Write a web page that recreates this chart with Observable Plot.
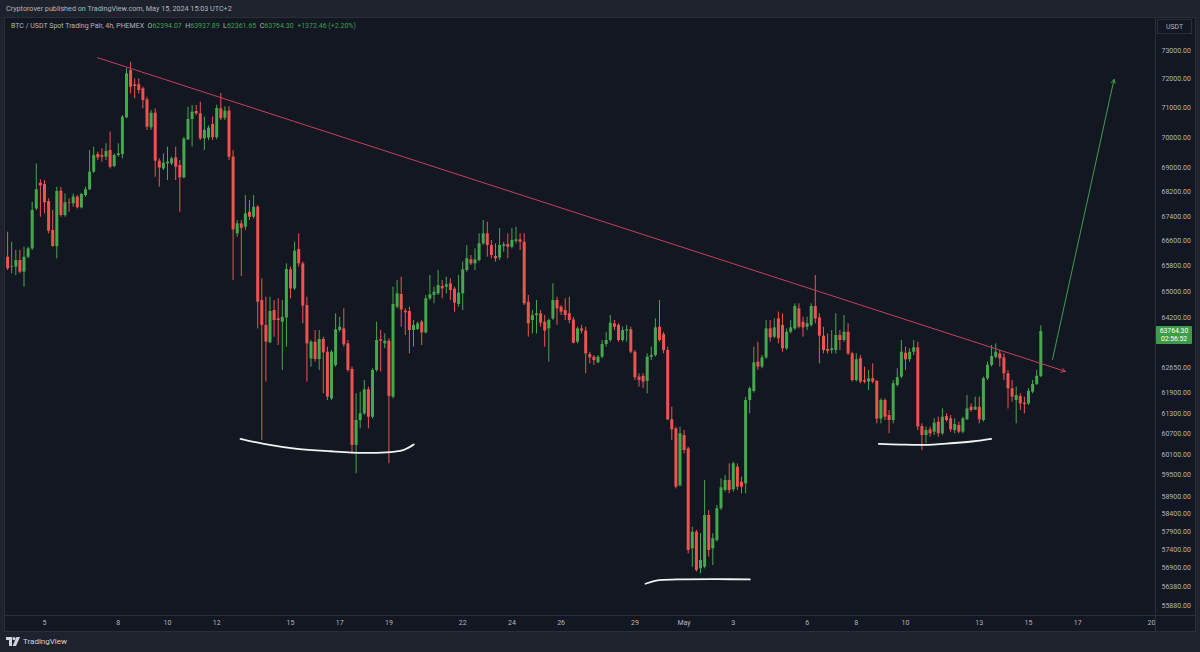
<!DOCTYPE html>
<html>
<head>
<meta charset="utf-8">
<script src="https://cdn.jsdelivr.net/npm/d3@7"></script>
<script src="https://cdn.jsdelivr.net/npm/@observablehq/plot@0.6"></script>
<style>
  html, body { margin:0; padding:0; }
  body { width:1200px; height:652px; overflow:hidden; position:relative; background:#1e222d; font-family:Roboto, "Noto Sans", sans-serif; }
  #hdr { position:absolute; left:6px; top:4px; font-size:7.2px; color:#b2b5be; white-space:nowrap; }
  #panel { position:absolute; left:5px; top:18px; width:1190px; height:613px; background:#131722; box-shadow:0 0 0 1px #2a2e39; }
  #legend { position:absolute; left:6px; top:4px; font-size:7px; color:#b2b5be; white-space:nowrap; }
  #legend .v { color:#3f9f4f; }
  .hline { position:absolute; left:0; width:1190px; height:1px; background:#2a2e39; }
  .vline { position:absolute; top:0; width:1px; height:613px; background:#2a2e39; }
  #usdt { position:absolute; left:1152px; top:1px; width:35px; height:15px; border:1px solid #2a2e39; box-sizing:border-box; font-size:6.8px; color:#b2b5be; display:flex; align-items:center; justify-content:center; }
  #last { position:absolute; left:1151px; width:36px; height:18px; background:#3d9c48; color:#fff; font-size:6.8px; line-height:8px; text-align:center; padding-top:1px; box-sizing:border-box; border-radius:1px; }
  #foot { position:absolute; left:6px; top:637px; font-size:8px; color:#d1d4dc; display:flex; align-items:center; gap:3px; }
</style>
</head>
<body>
<div id="hdr">Cryptorover published on TradingView.com, May 15, 2024 15:03 UTC+2</div>
<div id="panel">
  <div id="chart"></div>
  <div class="hline" style="top:597px"></div>
  <div class="vline" style="left:1150px"></div>
  <div id="legend">BTC / USDT Spot Trading Pair, 4h, PHEMEX&nbsp;&nbsp;O<span class="v">62394.07</span>&nbsp;&nbsp;H<span class="v">63937.89</span>&nbsp;&nbsp;L<span class="v">62361.65</span>&nbsp;&nbsp;C<span class="v">63764.30</span>&nbsp;&nbsp;<span class="v">+1372.46 (+2.20%)</span></div>
  <div id="usdt">USDT</div>
  <div id="last">63764.30<br>02:56:52</div>
</div>
<div id="foot"><svg width="14" height="9" viewBox="0 0 14 9"><path d="M0 0h6v9H3V3H0z" fill="#d1d4dc"/><circle cx="8" cy="1.6" r="1.6" fill="#d1d4dc"/><path d="M10.5 0H14l-4 9H6.6z" fill="#d1d4dc"/></svg><span>TradingView</span></div>
<script>
// ---- BTC/USDT 4h candles (PHEMEX), first candle 2024-04-03 12:00, step 4h ----
const firstCandle = "2024-04-03T12:00:00Z";
const open = [66085,65760,65770,65981,65610,66085,66352,67640,68482,68440,67880,66941,66425,68220,67425,67840,67805,68025,67675,68075,68264,68845,69435,69400,69345,69569,69035,69400,69435,70673,72300,71805,71805,71665,71287,70333,70830,69212,68957,69124,69124,69325,69068,68660,69925,70615,70888,70808,69960,69985,70446,70000,70980,70660,70900,69345,66833,67155,67048,67530,67370,67695,64722,63950,63420,64411,64150,64050,64180,65685,65085,66330,65875,64565,62930,63437,62910,63520,63130,61730,62730,63794,63845,63385,62610,60360,61089,61286,62000,61187,62578,63510,63385,63466,61780,64515,64910,64390,64380,63794,63825,64050,63720,64775,64880,64930,65160,65140,65245,65075,64600,64930,65664,66000,65875,65981,66512,66833,66460,66108,66060,66425,66490,66405,66590,66640,66565,64670,64102,64255,64310,64050,63845,64150,64722,64515,64411,64310,64120,63437,63845,63775,63060,62980,62810,62980,63365,63488,64000,63950,63488,63775,63815,63130,62380,62400,62250,62980,63030,63896,63670,63183,61110,60845,59200,60650,60260,57430,57890,56880,56925,58360,57430,57661,58547,59065,59350,59085,59732,59300,59255,61680,61950,62830,62680,62960,63845,63590,64150,63950,63235,63740,63845,64463,64050,63896,63950,64535,64180,63620,63215,63183,63183,63640,63488,63740,63080,62277,62930,62277,62230,62330,62250,61130,61680,61236,61089,62130,62380,63100,62900,63130,63265,60910,60650,60815,60745,61040,60700,61206,61140,60796,60945,60745,61110,61480,61400,61480,61089,62330,62730,62980,63080,62960,62480,62030,61680,61800,61600,61580,61930,62160,62394.07];
const high = [66886,66565,66299,66299,66405,66405,67858,69124,68594,68571,67970,67588,68350,68350,68130,67970,68130,68075,68150,68350,69569,69680,69513,69625,69795,70185,69457,69795,70751,72360,72590,72010,72010,71722,71378,70922,70980,69290,69457,69680,69345,69680,69235,70015,71035,71092,71092,71206,70693,70400,70700,71100,71500,71050,71050,69569,67264,67264,68075,67914,68075,67750,65400,64825,64825,64722,64775,64722,65875,65770,66565,66833,65930,64825,63488,63794,63794,63590,63285,63183,64310,64200,64463,63488,62680,61880,61930,62277,62080,62630,64050,63794,63690,63540,65140,65348,65450,64463,64515,64102,64050,64102,64880,65505,65140,65664,65348,65450,65400,65140,65505,65930,66460,66140,66352,66833,67264,67210,66619,66512,67000,66565,66833,67000,67048,66833,66833,64880,64411,64722,64411,64255,64150,65245,64825,64565,64775,64825,64200,63896,63950,63896,63130,63030,63030,63488,63740,64255,64102,64000,63896,63950,63896,63183,62480,62480,63080,63285,64150,64722,63740,63285,61480,60895,60895,60796,60310,58030,57939,57850,59350,58500,57850,58640,59397,59493,59827,59876,59827,59445,61778,62080,63285,63437,63030,64102,64102,64150,64360,64310,63845,64102,64620,64620,64200,64200,64620,65505,64310,63896,63690,63794,64310,63794,64255,64000,63130,63080,63030,62680,62578,62780,62277,61730,61730,61384,62277,62630,63488,63285,63235,63488,63437,60990,60895,60895,61140,61187,61430,61286,61236,61140,61040,61187,61830,61580,61780,61780,62380,62830,63335,63385,63183,63080,62578,62277,62080,61880,61780,62030,62277,62578,63937.89];
const low = [65664,65560,65505,65560,65140,66035,66299,67588,67370,67480,66830,66405,66035,67370,67370,67530,67695,67640,67640,68025,68242,68810,69235,69180,69235,68957,68990,69345,69290,70640,71493,71320,71493,70980,70242,70242,68680,68350,68902,68571,69068,68571,67530,68625,69905,69680,70751,69905,69569,69900,69900,69930,70580,70580,69235,65348,66725,65470,66941,67264,67318,63845,60504,62230,63390,63590,63335,62578,63285,64775,65035,65770,64000,62230,62680,62830,62578,61880,61680,61680,62680,63740,63285,62530,60115,59540,60845,61236,60845,61140,62530,62530,63235,59830,61730,64463,63896,63640,63080,63285,63794,63335,63690,64722,64620,64880,64775,64930,64722,64360,64515,64411,65610,65822,65664,65930,66460,66085,66035,65930,65981,66245,66035,66352,66512,66299,64565,63590,63690,63690,63896,63285,62830,64102,63950,64255,64102,64000,63385,63385,63690,62480,62780,62730,62780,62930,63285,63437,63794,63437,63437,63437,63080,62277,62080,62030,61880,62880,62980,63437,63080,61089,60504,59110,59160,60115,57290,56925,56790,56740,56880,57200,56970,57615,58500,59017,58970,59017,59065,58970,58970,61286,61900,62578,62630,62910,63437,63540,63385,63130,63183,63690,63794,63845,63590,63794,63896,64000,62780,63080,63080,63080,63080,63183,63437,63030,62230,62230,62180,62180,61978,62180,60990,60990,61089,60700,60990,62080,62330,62578,62830,63030,60796,60213,60410,60600,60650,60600,60650,61040,60745,60700,60700,60700,61089,61335,61384,60990,61040,62277,62680,62930,62680,62277,61430,61630,60990,61384,61286,61530,61880,62130,62361.65];
const close = [65718,65780,65981,65610,66085,66352,67588,68264,68395,67840,66918,66425,68210,67425,67840,67820,68025,67675,68110,68264,68845,69400,69325,69345,69535,69012,69400,69457,70693,72185,71722,71745,71608,71264,70355,70830,69212,68980,69145,69180,69290,69012,68660,69950,70615,70865,70808,69960,70250,70320,70000,70990,70640,70900,69345,66963,67155,67010,67480,67370,67695,64670,63950,63437,64380,64102,64102,64200,65695,65085,66277,65875,64545,63385,63437,62910,63520,63110,61780,63130,63815,63896,63355,62578,60360,61089,61286,62000,61187,62578,63488,63466,63466,61800,64600,64930,64430,64340,63794,63950,64000,63720,64775,64900,64980,65190,65085,65215,65035,64640,64950,65685,66035,65875,66000,66512,66833,66460,66140,66035,66460,66480,66405,66619,66640,66565,64620,64000,64255,64310,64020,63775,64102,64722,64463,64360,64255,64102,63405,63845,63775,63080,62960,62880,62980,63365,63488,64020,63896,63488,63794,63815,63130,62360,62277,62230,62980,63030,63875,63488,63183,61110,60815,59160,60700,60213,57384,57890,56834,57108,58360,57384,57710,58547,59140,59350,59065,59827,59160,59160,61680,62030,62810,62680,62960,63845,63570,63875,63540,63235,63740,63875,64535,63896,63875,64000,64535,64150,63620,63183,63160,63235,63640,63488,63740,63080,62277,62900,62230,62230,62330,62230,61130,61680,61187,61089,62180,62360,63130,62900,63130,63265,60900,60650,60796,60700,61010,60700,61187,61089,60815,60970,60745,61140,61430,61384,61480,61110,62330,62730,63000,63130,62930,62480,62030,61780,61830,61580,61560,61955,62160,62400,63764.30];

// ---- axes ----
const priceTicks = [73000,72000,71000,70000,69000,68200,67400,66600,65800,65000,64200,62650,61900,61300,60700,60100,59500,58900,58400,57900,57400,56900,56380,55880];
const dayTicks = ["2024-04-05","2024-04-08","2024-04-10","2024-04-12","2024-04-15","2024-04-17","2024-04-19","2024-04-22","2024-04-24","2024-04-26","2024-04-29","2024-05-01","2024-05-03","2024-05-06","2024-05-08","2024-05-10","2024-05-13","2024-05-15","2024-05-17","2024-05-20"];
const dayLabels = ["5","8","10","12","15","17","19","22","24","26","29","May","3","6","8","10","13","15","17","20"];
const lastPrice = 63764.30;

// ---- drawings (date, price) ----
const trendLine = [["2024-04-07T03:40Z",72750],["2024-05-16T12:05Z",62550]];
const breakoutArrow = [["2024-05-15T23:25Z",62910],["2024-05-18T11:25Z",71990]];
const baseLeft = [["2024-04-12T23:13Z",60552],["2024-04-13T21:58Z",60406],["2024-04-15T06:32Z",60261],["2024-04-16T15:01Z",60191],["2024-04-17T23:31Z",60145],["2024-04-19T01:34Z",60165],["2024-04-19T14:32Z",60232],["2024-04-20T00:17Z",60386]];
const baseMid = [["2024-04-29T10:21Z",56471],["2024-04-29T21:46Z",56561],["2024-04-30T17:17Z",56588],["2024-05-02T08:18Z",56596],["2024-05-03T16:06Z",56588]];
const baseRight = [["2024-05-08T21:58Z",60406],["2024-05-09T19:08Z",60386],["2024-05-10T17:51Z",60377],["2024-05-11T19:54Z",60424],["2024-05-12T18:38Z",60482],["2024-05-13T11:37Z",60552]];

const UP = "#46a84d", DOWN = "#ef5350";
const t0 = Date.parse(firstCandle);
const candles = open.map((o, i) => ({t: new Date(t0 + i * 4 * 3600e3), o, h: high[i], l: low[i], c: close[i]}));
const pts = a => a.map(([d, p]) => ({t: new Date(d), p}));
const seg = a => [{x1: new Date(a[0][0]), y1: a[0][1], x2: new Date(a[1][0]), y2: a[1][1]}];
const labelOf = new Map(dayTicks.map((d, i) => [Date.parse(d + "T00:00Z"), dayLabels[i]]));

const dayMs = 864e5;
const apr5 = Date.UTC(2024, 3, 5);
const xDomain = [new Date(apr5 - 1.58537 * dayMs), new Date(apr5 + 45.1626 * dayMs)];

const chart = Plot.plot({
  width: 1190, height: 613,
  marginLeft: 0, marginRight: 40, marginTop: 0, marginBottom: 16,
  style: {background: "transparent", color: "#b2b5be", fontFamily: "Roboto, sans-serif", fontSize: "7px", overflow: "visible"},
  x: {type: "utc", domain: xDomain},
  y: {type: "log", domain: [55615, 74134]},
  marks: [
    Plot.ruleX(candles, {x: "t", y1: "l", y2: "h", stroke: d => d.c >= d.o ? UP : DOWN, strokeWidth: 1}),
    Plot.ruleX(candles, {x: "t", y1: "o", y2: "c", stroke: d => d.c >= d.o ? UP : DOWN, strokeWidth: 3}),
    Plot.arrow(seg(trendLine), {x1: "x1", y1: "y1", x2: "x2", y2: "y2", stroke: "#c2425a", strokeWidth: 1, headLength: 7, headAngle: 55}),
    Plot.arrow(seg(breakoutArrow), {x1: "x1", y1: "y1", x2: "x2", y2: "y2", stroke: "#3f9f4f", strokeWidth: 1, headLength: 6, headAngle: 55}),
    Plot.line(pts(baseLeft), {x: "t", y: "p", stroke: "#f2f2f2", strokeWidth: 1.8, curve: "catmull-rom"}),
    Plot.line(pts(baseMid), {x: "t", y: "p", stroke: "#f2f2f2", strokeWidth: 1.8, curve: "catmull-rom"}),
    Plot.line(pts(baseRight), {x: "t", y: "p", stroke: "#f2f2f2", strokeWidth: 1.8, curve: "catmull-rom"}),
    Plot.axisY(priceTicks, {anchor: "right", tickSize: 0, tickPadding: 6, tickFormat: d => d.toFixed(2), fill: "#b2b5be"}),
    Plot.axisX(dayTicks.map(d => new Date(d + "T00:00Z")), {anchor: "bottom", tickSize: 0, tickPadding: 5, tickFormat: d => labelOf.get(+d), fill: "#b2b5be"})
  ]
});
document.getElementById("chart").appendChild(chart);
const yLast = chart.scale("y").apply(lastPrice);
document.getElementById("last").style.top = (yLast - 5) + "px";
</script>
</body>
</html>
